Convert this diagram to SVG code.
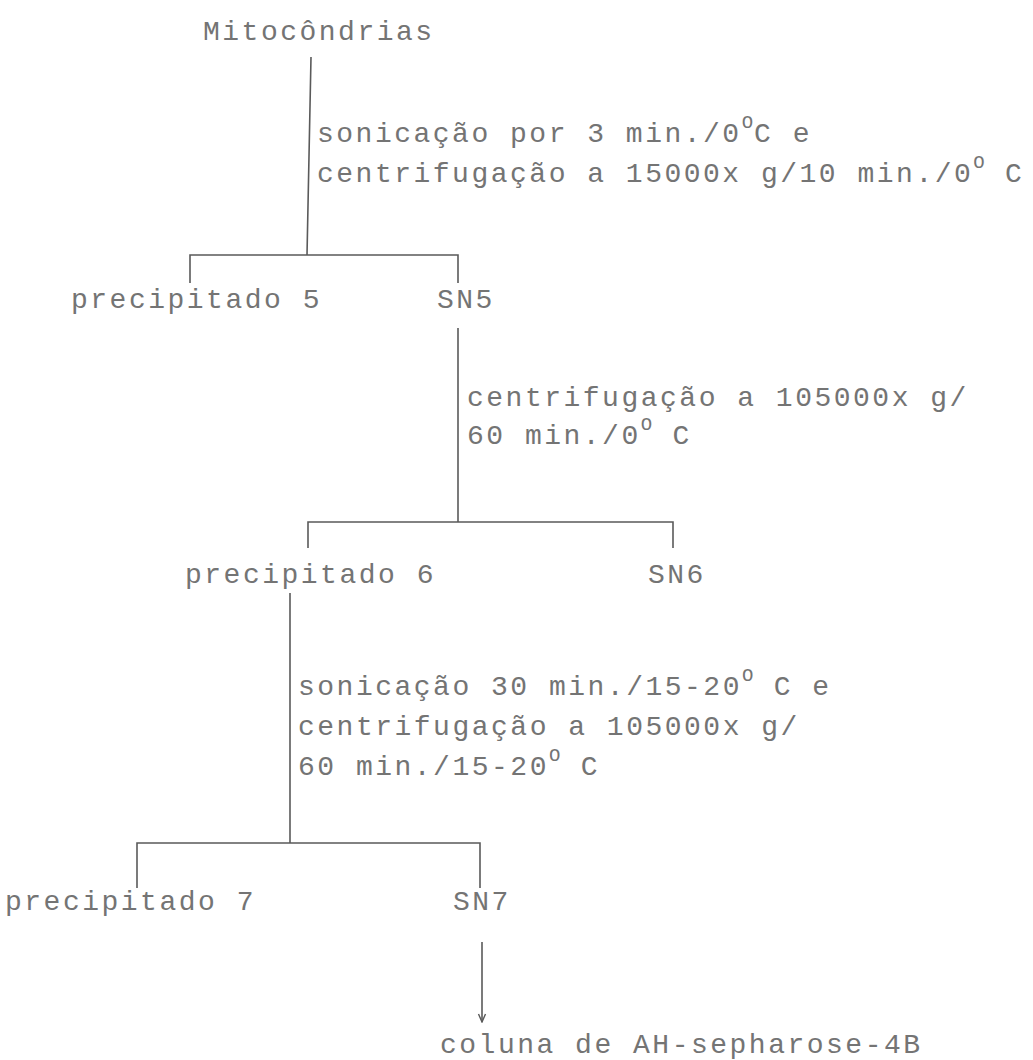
<svg xmlns="http://www.w3.org/2000/svg" width="1033" height="1060" viewBox="0 0 1033 1060">
<style>
text{font-family:"Liberation Mono","DejaVu Sans Mono",monospace;font-size:28px;letter-spacing:2.5px;fill:#747474}
.sup{font-size:19px;letter-spacing:1px}
.ln{fill:none;stroke:#5a5a5a;stroke-width:1.6}
</style>
<defs>
<marker id="ah" viewBox="0 0 12 12" refX="11" refY="6" markerWidth="12" markerHeight="12" orient="auto" markerUnits="userSpaceOnUse">
<path d="M3 2.5 L11 6 L3 9.5" fill="none" stroke="#5a5a5a" stroke-width="1.4"/>
</marker>
</defs>
<rect width="1033" height="1060" fill="#fff"/>
<g id="connectors">
<path class="ln" d="M311 57 L307 255 M190 283 V255 H458 V283"/>
<path class="ln" d="M458 328 V522 M308 548 V522 H673 V548"/>
<path class="ln" d="M290 593 V843 M137 888 V843 H480 V888"/>
<path class="ln" d="M482 942 V1022" marker-end="url(#ah)"/>
</g>
<g id="labels">
<text x="317" y="142">sonicação por 3 min./0<tspan class="sup" dy="-14">O</tspan><tspan dy="14">C e</tspan></text>
<text x="317" y="182">centrifugação a 15000x g/10 min./0<tspan class="sup" dy="-14">O</tspan><tspan dy="14"> C</tspan></text>
<text x="467" y="406">centrifugação a 105000x g/</text>
<text x="467" y="444">60 min./0<tspan class="sup" dy="-14">O</tspan><tspan dy="14"> C</tspan></text>
<text x="298" y="695">sonicação 30 min./15-20<tspan class="sup" dy="-14">O</tspan><tspan dy="14"> C e</tspan></text>
<text x="298" y="735">centrifugação a 105000x g/</text>
<text x="298" y="775">60 min./15-20<tspan class="sup" dy="-14">O</tspan><tspan dy="14"> C</tspan></text>
</g>
<g id="n-mitocondrias"><text x="203" y="40">Mitocôndrias</text></g>
<g id="n-precipitado5"><text x="71" y="308">precipitado 5</text></g>
<g id="n-sn5"><text x="437" y="308">SN5</text></g>
<g id="n-precipitado6"><text x="185" y="583">precipitado 6</text></g>
<g id="n-sn6"><text x="648" y="583">SN6</text></g>
<g id="n-precipitado7"><text x="5" y="910">precipitado 7</text></g>
<g id="n-sn7"><text x="453" y="910">SN7</text></g>
<g id="n-coluna"><text x="440" y="1053">coluna de AH-sepharose-4B</text></g>
</svg>
